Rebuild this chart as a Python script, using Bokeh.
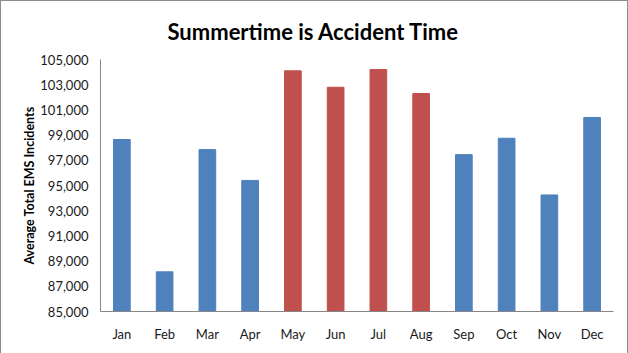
from bokeh.plotting import figure
from bokeh.models import Range1d, FixedTicker, NumeralTickFormatter, ColumnDataSource, Title
from bokeh.embed import file_html
from bokeh.resources import INLINE

months = ["Jan", "Feb", "Mar", "Apr", "May", "Jun", "Jul", "Aug", "Sep", "Oct", "Nov", "Dec"]
incidents = [98650, 88150, 97850, 95400, 104100, 102800, 104200, 102300, 97450, 98750, 94250, 100400]
summer_months = ["May", "Jun", "Jul", "Aug"]
y_ticks = [85000, 87000, 89000, 91000, 93000, 95000, 97000, 99000, 101000, 103000, 105000]

BLUE = "#4F81BD"
RED = "#C0504D"
colors = [RED if m in summer_months else BLUE for m in months]

src = ColumnDataSource(dict(month=months, value=incidents, color=colors))

p = figure(x_range=months, y_range=Range1d(y_ticks[0], y_ticks[-1]),
           frame_width=513, frame_height=252,
           min_border_left=99, min_border_right=14, min_border_top=56, min_border_bottom=43,
           output_backend="svg", toolbar_location=None, title=None)
p.styles = {"border": "1px solid #8c8c8c"}

p.vbar(x="month", top="value", bottom=y_ticks[0], width=0.39, color="color", source=src)

title = Title(text="Summertime is Accident Time", align="left", offset=67, standoff=29,
              text_font="Lato", text_font_size="22px", text_font_style="bold", text_color="#000000")
p.add_layout(title, "above")

p.outline_line_color = None
p.xgrid.grid_line_color = None
p.ygrid.grid_line_color = None
p.background_fill_color = "white"
p.border_fill_color = "white"

for ax in (p.xaxis[0], p.yaxis[0]):
    ax.axis_line_color = "#868686"
    ax.major_tick_line_color = None
    ax.minor_tick_line_color = None
    ax.major_tick_out = 0
    ax.major_tick_in = 0
    ax.minor_tick_out = 0
    ax.minor_tick_in = 0
    ax.major_label_text_font = "Lato"
    ax.major_label_text_font_size = "13px"
    ax.major_label_text_color = "#1a1a1a"

p.yaxis[0].ticker = FixedTicker(ticks=y_ticks)
p.yaxis[0].formatter = NumeralTickFormatter(format="0,0")
p.yaxis[0].major_label_standoff = 12
p.yaxis[0].axis_label = "Average Total EMS Incidents"
p.yaxis[0].axis_label_text_font = "Lato"
p.yaxis[0].axis_label_text_font_size = "12.5px"
p.yaxis[0].axis_label_text_font_style = "bold"
p.yaxis[0].axis_label_text_color = "#000000"
p.yaxis[0].axis_label_standoff = 0
p.xaxis[0].major_label_standoff = 14

open("out.html", "w").write(file_html(p, INLINE))
